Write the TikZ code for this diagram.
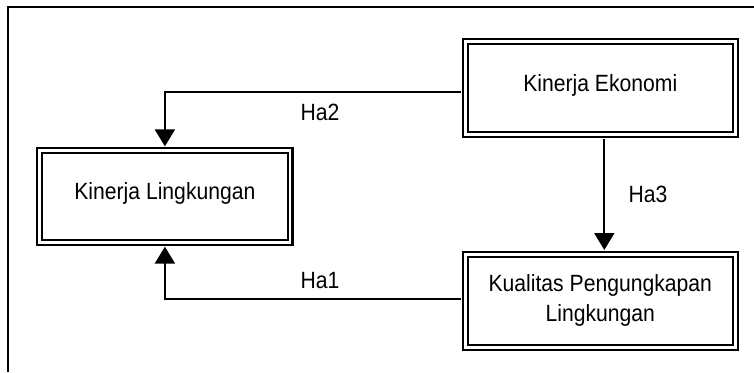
\documentclass[tikz,border=0pt]{standalone}
\usepackage{fontspec}
\setmainfont{Liberation Sans}[FakeStretch=0.9]
\usetikzlibrary{arrows.meta}
\begin{document}
\begin{tikzpicture}[x=1pt,y=-1pt,
  boxfont/.style={font=\fontsize{23.5}{30}\selectfont},
  box/.style={draw, line width=2.1pt, double, double distance=2.8pt, inner sep=0pt, boxfont, align=center},
  lbl/.style={boxfont, anchor=base, inner sep=0pt},
  arr/.style={line width=2pt, -{Triangle[width=20pt,length=17pt]}, shorten <=3.4pt, shorten >=3.4pt}]
\useasboundingbox (0,0) rectangle (754,372);
\draw[line width=1.9pt] (8,372) -- (8,7) -- (754,7);
\node[box, minimum width=269.7pt, minimum height=93.3pt, text height=16.7pt, text depth=10pt] (eko) at (600.3,87.9) {Kinerja Ekonomi};
\node[box, minimum width=250.2pt, minimum height=91.4pt, text height=16.7pt, text depth=10pt] (ling) at (164.9,196.5) {Kinerja Lingkungan};
\node[box, minimum width=269.7pt, minimum height=92.7pt] (kual) at (600.3,300.8) {Kualitas Pengungkapan\\Lingkungan};
\draw[arr] ([yshift=-4pt]eko.west) -| (ling.north);
\draw[arr] ([xshift=4pt]eko.south) -- ([xshift=4pt]kual.north);
\draw[arr] ([yshift=1.5pt]kual.west) -| (ling.south);
\node[lbl] (ha2) at (320,120) {Ha2};
\node[lbl] (ha3) at (648,202) {Ha3};
\node[lbl] (ha1) at (320,288) {Ha1};
\end{tikzpicture}
\end{document}
